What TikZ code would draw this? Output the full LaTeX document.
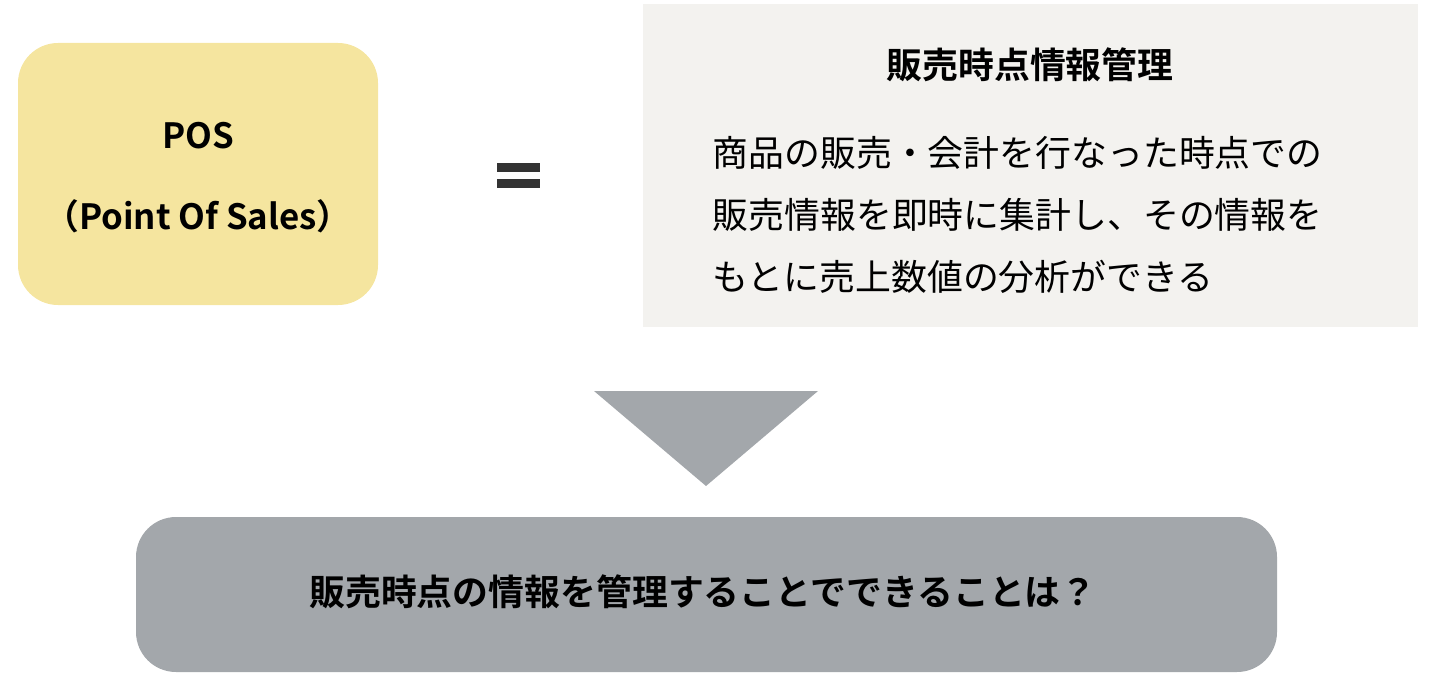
\documentclass[tikz,border=0pt]{standalone}
\usepackage{fontspec}
\setmainfont{Noto Sans CJK JP}[BoldFont={Noto Sans CJK JP Bold}]
\usepackage{tikz}
\definecolor{posyellow}{HTML}{F5E59F}
\definecolor{notegray}{HTML}{F3F2EF}
\definecolor{askgray}{HTML}{A3A7AB}
\definecolor{eqgray}{HTML}{333333}

\begin{document}
\begin{tikzpicture}[x=0.01cm,y=-0.01cm]
\useasboundingbox (0,0) rectangle (1440,688);

%some boxes
\fill[posyellow,rounded corners=0.4cm] (18,43) rectangle (378,305);
\fill[notegray] (643,4) rectangle (1418,327);
\fill[askgray,rounded corners=0.4cm] (136,517) rectangle (1277,672);

%equals sign
\fill[eqgray] (497,163) rectangle (540,172);
\fill[eqgray] (497,179) rectangle (540,188);

%down triangle
\fill[askgray] (594,391)--(818,391)--(706,486)--cycle;

%some labels
\node[font=\bfseries\fontsize{9.9}{12}\selectfont] (pos) at (198,136){POS};
\node[font=\bfseries\fontsize{9.9}{12}\selectfont] (posfull) at (198,216){（Point Of Sales）};
\node[font=\bfseries\fontsize{10.2}{12}\selectfont] (title) at (1030,65){販売時点情報管理};
\node[anchor=west,align=left,inner sep=0pt,font=\fontsize{10.2}{17.6}\selectfont] (desc) at (712,215)
{商品の販売・会計を行なった時点での\\販売情報を即時に集計し、その情報を\\もとに売上数値の分析ができる};
\node[font=\bfseries\fontsize{10.2}{12}\selectfont] (question) at (703,592){販売時点の情報を管理することでできることは？};
\end{tikzpicture}
\end{document}
